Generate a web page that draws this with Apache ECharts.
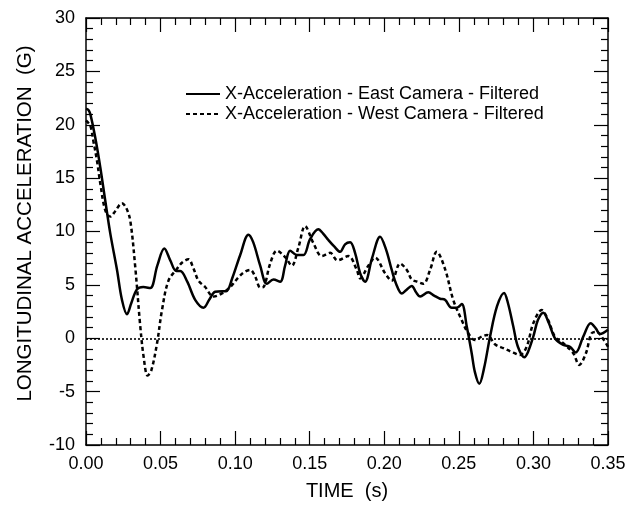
<!DOCTYPE html>
<html>
<head>
<meta charset="utf-8">
<script src="https://cdn.jsdelivr.net/npm/echarts@6/dist/echarts.min.js"></script>
<style>html,body{margin:0;padding:0;background:#fff;}#c{width:640px;height:506px;}</style>
</head>
<body>
<div id="c"></div>
<script>
var seriesNames = ['X-Acceleration - East Camera - Filtered', 'X-Acceleration - West Camera - Filtered'];
var xTitle = 'TIME  (s)';
var yTitle = 'LONGITUDINAL ACCELERATION  (G)';

var eastTime = [0, 0.0015, 0.0029, 0.0062, 0.0096, 0.0129, 0.0163, 0.0208, 0.0241, 0.0275, 0.0304, 0.0342, 0.0384, 0.0431, 0.0478, 0.0525, 0.0565, 0.0605, 0.0632, 0.0679, 0.0732, 0.0788, 0.0826, 0.0866, 0.0913, 0.0940, 0.0980, 0.1034, 0.1089, 0.1121, 0.1168, 0.1213, 0.1257, 0.1302, 0.1335, 0.1369, 0.1414, 0.1458, 0.1503, 0.1558, 0.1590, 0.1625, 0.1664, 0.1704, 0.1737, 0.1771, 0.1804, 0.1838, 0.1871, 0.1918, 0.1972, 0.2012, 0.2050, 0.2079, 0.2117, 0.2146, 0.2184, 0.2213, 0.2240, 0.2295, 0.2334, 0.2374, 0.2407, 0.2452, 0.2486, 0.2519, 0.2553, 0.2586, 0.2608, 0.2637, 0.2669, 0.2709, 0.2756, 0.2803, 0.2829, 0.2865, 0.2896, 0.2939, 0.2963, 0.2999, 0.3030, 0.3066, 0.3104, 0.3144, 0.3200, 0.3245, 0.3283, 0.3334, 0.3384, 0.3419, 0.3446, 0.35];
var eastAccel = [21.5, 21.4, 21.0, 18.8, 16.0, 12.9, 9.8, 6.4, 3.6, 2.25, 3.3, 4.6, 4.8, 4.7, 6.8, 8.4, 7.3, 6.3, 6.3, 5.3, 3.6, 2.86, 3.6, 4.35, 4.4, 4.4, 5.6, 7.8, 9.7, 9.0, 6.8, 5.1, 5.5, 5.3, 6.8, 8.2, 7.8, 7.8, 9.3, 10.2, 9.8, 9.2, 8.6, 8.1, 8.8, 9.0, 8.0, 6.1, 5.3, 7.5, 9.5, 8.3, 6.4, 5.1, 4.2, 4.5, 4.9, 4.3, 3.9, 4.3, 4.0, 3.7, 3.6, 2.86, 2.86, 3.2, 1.1, -1.4, -3.2, -4.26, -2.8, 0.15, 3.0, 4.25, 3.3, 1.1, -0.8, -1.77, -1.3, 0.15, 1.7, 2.4, 1.4, 0.0, -0.62, -0.8, -1.34, 0.15, 1.4, 0.9, 0.4, 0.8];

var westTime = [0, 0.0029, 0.0049, 0.0074, 0.0096, 0.0129, 0.0163, 0.0196, 0.0241, 0.0270, 0.0297, 0.0330, 0.0364, 0.0387, 0.0413, 0.0438, 0.0476, 0.0509, 0.0553, 0.0610, 0.0645, 0.0687, 0.0719, 0.0754, 0.0799, 0.0855, 0.0911, 0.0967, 0.1022, 0.1061, 0.1101, 0.1134, 0.1168, 0.1190, 0.1235, 0.1280, 0.1335, 0.1380, 0.1424, 0.1469, 0.1525, 0.1581, 0.1637, 0.1686, 0.1759, 0.1816, 0.1838, 0.1893, 0.1938, 0.2005, 0.2050, 0.2106, 0.2151, 0.2184, 0.2220, 0.2262, 0.2307, 0.2352, 0.2407, 0.2463, 0.2519, 0.2563, 0.2608, 0.2653, 0.2689, 0.2742, 0.2798, 0.2865, 0.2910, 0.2955, 0.2999, 0.3055, 0.3099, 0.3144, 0.3200, 0.3267, 0.3307, 0.3352, 0.3390, 0.3424, 0.3457, 0.35];
var westAccel = [20.4, 19.9, 18.5, 16.6, 14.5, 12.0, 11.4, 11.9, 12.65, 12.2, 11.0, 6.7, 1.1, -1.8, -3.5, -3.0, -0.5, 2.6, 5.4, 6.5, 7.1, 7.4, 6.6, 5.4, 4.8, 3.9, 4.2, 4.8, 5.7, 6.2, 6.4, 5.8, 4.75, 4.8, 7.0, 8.2, 7.6, 6.8, 8.5, 10.5, 8.9, 7.7, 8.0, 7.3, 7.7, 6.4, 5.6, 6.8, 7.55, 6.1, 5.4, 7.0, 6.4, 5.5, 5.3, 5.1, 6.4, 8.1, 6.5, 3.57, 1.7, 0.47, -0.16, 0.15, 0.3, -0.56, -0.93, -1.34, -1.56, -0.78, 1.4, 2.64, 1.7, 0.15, -0.47, -1.4, -2.5, -1.4, 0.47, 0.6, 0.15, -0.8];

function pairs(xs, ys) { return xs.map(function (x, i) { return [x, ys[i]]; }); }

var FONT = "'Liberation Sans', Arial, sans-serif";
var xMin = 0, xMax = 0.35, xStep = 0.05;
var yMin = -10, yMax = 30, yStep = 5;

function xAxisCfg(pos, labels) {
  return {
    type: 'value', position: pos, min: xMin, max: xMax, interval: xStep,
    axisLine: { show: true, onZero: false, lineStyle: { color: '#000', width: 1.5 } },
    axisTick: { show: true, inside: true, length: 14, lineStyle: { color: '#000', width: 1.2 } },
    minorTick: { show: true, splitNumber: 5, length: 7, lineStyle: { color: '#000', width: 1.2 } },
    splitLine: { show: false },
    axisLabel: { show: labels, color: '#000', fontSize: 18, fontFamily: FONT, margin: 10,
      formatter: function (v) { return v.toFixed(2); } }
  };
}
function yAxisCfg(pos, labels) {
  return {
    type: 'value', position: pos, min: yMin, max: yMax, interval: yStep,
    axisLine: { show: true, onZero: false, lineStyle: { color: '#000', width: 1.5 } },
    axisTick: { show: true, inside: true, length: 14, lineStyle: { color: '#000', width: 1.2 } },
    minorTick: { show: true, splitNumber: 5, length: 7, lineStyle: { color: '#000', width: 1.2 } },
    splitLine: { show: false },
    axisLabel: { show: labels, color: '#000', fontSize: 18, fontFamily: FONT, margin: 11 }
  };
}

var xa = xAxisCfg('bottom', true);
xa.name = xTitle; xa.nameLocation = 'middle'; xa.nameGap = 36;
xa.nameTextStyle = { color: '#000', fontSize: 20, fontFamily: FONT };
var xb = xAxisCfg('top', false);
var ya = yAxisCfg('left', true);
ya.name = yTitle; ya.nameLocation = 'middle'; ya.nameGap = 50;
ya.nameTextStyle = { color: '#000', fontSize: 20.5, fontFamily: FONT, padding: [0, 0, 0, 16] };
var yb = yAxisCfg('right', false);

var chart = echarts.init(document.getElementById('c'), null, { renderer: 'canvas' });
chart.setOption({
  animation: false,
  backgroundColor: '#fff',
  grid: { left: 86, right: 32, top: 18, bottom: 60, containLabel: false },
  legend: {
    left: 180, top: 80, orient: 'vertical', itemGap: 2,
    itemWidth: 34, itemHeight: 18,
    itemStyle: { opacity: 0 },
    textStyle: { color: '#000', fontSize: 18, fontFamily: FONT },
    data: seriesNames
  },
  xAxis: [xa, xb],
  yAxis: [ya, yb],
  series: [
    {
      name: seriesNames[0], type: 'line', xAxisIndex: 0, yAxisIndex: 0,
      data: pairs(eastTime, eastAccel), smooth: 0.35, symbol: 'none',
      lineStyle: { color: '#000', width: 2.5, type: 'solid' },
      itemStyle: { color: '#000' },
      markLine: {
        silent: true, symbol: 'none', label: { show: false },
        lineStyle: { color: '#000', width: 1.6, type: [2, 2] },
        data: [{ yAxis: 0 }]
      }
    },
    {
      name: seriesNames[1], type: 'line', xAxisIndex: 0, yAxisIndex: 0,
      data: pairs(westTime, westAccel), smooth: 0.35, symbol: 'none',
      lineStyle: { color: '#000', width: 2.5, type: [4, 3] },
      itemStyle: { color: '#000' }
    }
  ]
});
</script>
</body>
</html>
